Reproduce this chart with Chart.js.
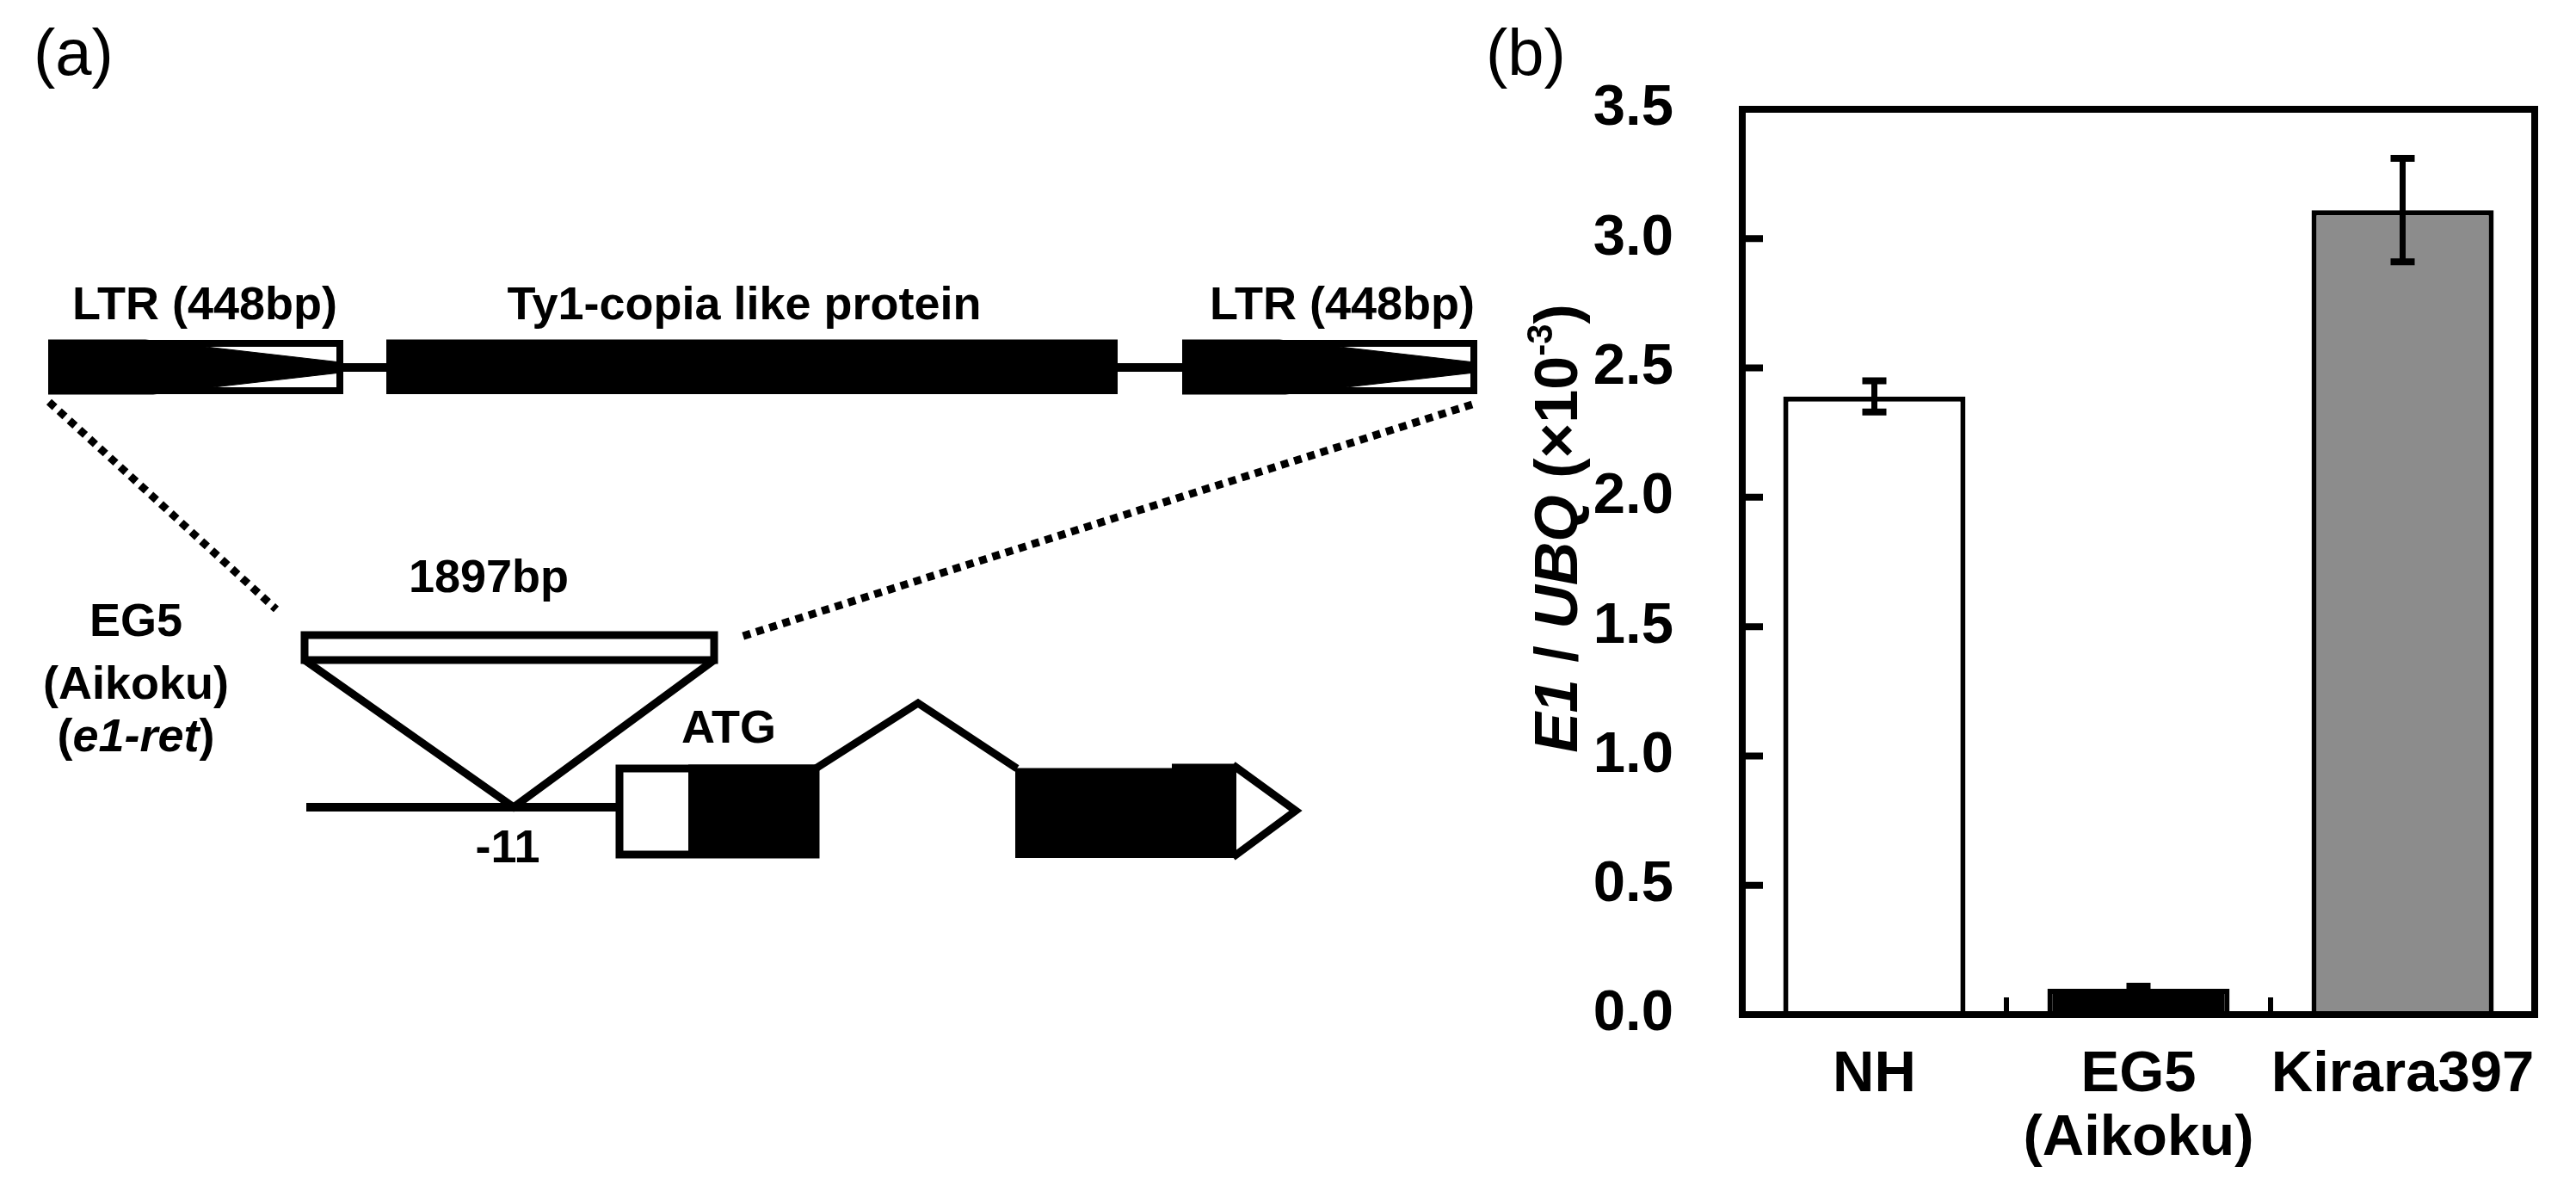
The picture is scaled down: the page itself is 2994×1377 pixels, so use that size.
<!DOCTYPE html>
<html>
<head>
<meta charset="utf-8">
<script src="https://cdn.jsdelivr.net/npm/chart.js@4.4.1/dist/chart.umd.min.js"></script>
<style>
  html, body { margin: 0; padding: 0; background: #fff; }
  #wrap { position: relative; width: 2994px; height: 1377px; overflow: hidden; }
  canvas { position: absolute; top: 0; }
  #diagram { left: 0; }
  #bars { left: 1700px; }
</style>
</head>
<body>
<div id="wrap">
  <canvas id="diagram" width="1760" height="1377"></canvas>
  <canvas id="bars" width="1294" height="1377"></canvas>
</div>
<script>
// (b) expression data
const cultivars = [["NH"], ["EG5", "(Aikoku)"], ["Kirara397"]];
const expression = [2.39, 0.10, 3.11];
const errors = [0.06, 0.01, 0.20];
const yTicks = [0, 0.5, 1.0, 1.5, 2.0, 2.5, 3.0, 3.5];
const barColors = ["#ffffff", "#000000", "#8c8c8c"];

const FAMILY = "'Liberation Sans', Arial, Helvetica, sans-serif";
Chart.defaults.color = "#000";
Chart.defaults.font.family = FAMILY;

function fontOf(p, size) {
  const s = Math.round(size * (p.sup ? 0.6 : 1));
  return (p.italic ? "italic " : "") + (p.regular ? "normal " : "bold ") + s + "px " + FAMILY;
}

// draws a run of mixed-style text on one baseline
function richText(ctx, parts, x, y, size, align) {
  let total = 0;
  parts.forEach(p => {
    ctx.font = fontOf(p, size);
    p.w = ctx.measureText(p.t).width;
    total += p.w;
  });
  let cx = align === "center" ? x - total / 2 : align === "right" ? x - total : x;
  ctx.textAlign = "left";
  ctx.textBaseline = "alphabetic";
  parts.forEach(p => {
    ctx.font = fontOf(p, size);
    ctx.fillText(p.t, cx, y - (p.sup ? size * 0.42 : 0));
    cx += p.w;
  });
}

// ---------- (a) gene structure diagram, drawn on hidden linear scales ----------
function path(points, width, dash) {
  return {
    data: points.map(([x, y]) => ({ x, y })),
    borderColor: "#000",
    borderWidth: width,
    borderDash: dash || [],
    borderJoinStyle: "miter",
    fill: false
  };
}
function outline(x1, y1, x2, y2, width) {
  return path([[x1, y1], [x2, y1], [x2, y2], [x1, y2], [x1, y1], [x2, y1]], width);
}
function block(x1, y1, x2, y2) {
  const d = path([[x1, y1], [x2, y1]], 1);
  d.fill = { value: y2 };
  d.backgroundColor = "#000";
  return d;
}
function between(upper, lower) {
  const a = path(upper, 1);
  a.fill = "+1";
  a.backgroundColor = "#000";
  return [a, path(lower, 1)];
}

const diagramSets = [
  ...between([[56, 395], [169, 395], [396, 421]], [[56, 458], [178, 458], [396, 433]]),
  ...between([[1374, 395], [1487, 395], [1714, 421]], [[1374, 458], [1494, 458], [1714, 433]]),
  block(449, 395, 1299, 458),
  outline(60, 399, 395, 454, 8),
  outline(1378, 399, 1713, 454, 8),
  path([[399, 427], [449, 427]], 10),
  path([[1299, 427], [1374, 427]], 10),
  path([[57, 467], [321, 708]], 9, [9, 7]),
  path([[1711, 470], [861, 740]], 9, [9, 7]),
  outline(354, 738, 830, 767, 9),
  path([[354, 767], [597, 938], [830, 767]], 9),
  path([[356, 938], [718, 938]], 10),
  block(800, 889, 952, 997),
  outline(720, 893, 948, 993, 9),
  path([[948, 893], [1067, 817], [1182, 893]], 9),
  block(1180, 893, 1437, 997),
  block(1362, 888, 1437, 997),
  path([[1433, 889], [1506, 942], [1433, 996]], 9)
];

const diagramLabels = [
  { parts: [{ t: "(a)", regular: true }], x: 39, y: 87, size: 76, align: "left" },
  { parts: [{ t: "LTR (448bp)" }], x: 238, y: 371, size: 54, align: "center" },
  { parts: [{ t: "Ty1-copia like protein" }], x: 865, y: 371, size: 54, align: "center" },
  { parts: [{ t: "LTR (448bp)" }], x: 1560, y: 371, size: 54, align: "center" },
  { parts: [{ t: "1897bp" }], x: 568, y: 688, size: 54, align: "center" },
  { parts: [{ t: "EG5" }], x: 158, y: 739, size: 54, align: "center" },
  { parts: [{ t: "(Aikoku)" }], x: 158, y: 812, size: 54, align: "center" },
  { parts: [{ t: "(" }, { t: "e1-ret", italic: true }, { t: ")" }], x: 158, y: 873, size: 54, align: "center" },
  { parts: [{ t: "ATG" }], x: 847, y: 863, size: 54, align: "center" },
  { parts: [{ t: "-11" }], x: 590, y: 1002, size: 54, align: "center" }
];

const diagramText = {
  id: "diagramText",
  afterDraw(chart) {
    const { ctx, scales: { x, y } } = chart;
    ctx.save();
    ctx.fillStyle = "#000";
    diagramLabels.forEach(l => {
      richText(ctx, l.parts, x.getPixelForValue(l.x), y.getPixelForValue(l.y), l.size, l.align);
    });
    ctx.restore();
  }
};

new Chart(document.getElementById("diagram"), {
  type: "line",
  data: { datasets: diagramSets },
  options: {
    responsive: false,
    animation: false,
    devicePixelRatio: 1,
    layout: { padding: 0 },
    elements: { point: { radius: 0, hoverRadius: 0 }, line: { tension: 0 } },
    plugins: { legend: { display: false }, tooltip: { enabled: false } },
    scales: {
      x: { type: "linear", min: 0, max: 1760, display: false },
      y: { type: "linear", min: 0, max: 1377, reverse: true, display: false }
    }
  },
  plugins: [diagramText]
});

// ---------- (b) bar chart ----------
const tickFont = { family: FAMILY, size: 67, weight: "bold" };
const yTitle = [
  { t: "E1", italic: true }, { t: " / " }, { t: "UBQ", italic: true },
  { t: " (\u00d710" }, { t: "-3", sup: true }, { t: ")" }
];

const panelB = {
  id: "panelB",
  afterDatasetsDraw(chart) {
    const { ctx, chartArea: a, scales: { x, y } } = chart;
    ctx.save();
    ctx.strokeStyle = "#000";
    ctx.lineCap = "butt";

    // error bars
    chart.getDatasetMeta(0).data.forEach((bar, i) => {
      const hi = y.getPixelForValue(expression[i] + errors[i]);
      const lo = y.getPixelForValue(expression[i] - errors[i]);
      ctx.lineWidth = 7;
      ctx.beginPath();
      ctx.moveTo(bar.x, hi);
      ctx.lineTo(bar.x, lo);
      ctx.stroke();
      ctx.lineWidth = 8;
      ctx.beginPath();
      ctx.moveTo(bar.x - 14, hi);
      ctx.lineTo(bar.x + 14, hi);
      ctx.moveTo(bar.x - 14, lo);
      ctx.lineTo(bar.x + 14, lo);
      ctx.stroke();
    });

    // inward tick marks
    ctx.lineWidth = 8;
    ctx.beginPath();
    yTicks.forEach(v => {
      const py = y.getPixelForValue(v);
      ctx.moveTo(a.left, py);
      ctx.lineTo(a.left + 24, py);
    });
    ctx.stroke();
    ctx.lineWidth = 6;
    ctx.beginPath();
    for (let i = 0; i < cultivars.length - 1; i++) {
      const px = (x.getPixelForValue(i) + x.getPixelForValue(i + 1)) / 2;
      ctx.moveTo(px, a.bottom);
      ctx.lineTo(px, a.bottom - 20);
    }
    ctx.stroke();

    // frame
    ctx.lineWidth = 8;
    ctx.strokeRect(a.left, a.top, a.right - a.left, a.bottom - a.top);
    ctx.restore();
  },
  afterDraw(chart) {
    const { ctx } = chart;
    ctx.save();
    ctx.fillStyle = "#000";
    richText(ctx, [{ t: "(b)", regular: true }], 27, 87, 76, "left");
    ctx.translate(133, 614);
    ctx.rotate(-Math.PI / 2);
    richText(ctx, yTitle, 0, 0, 70, "center");
    ctx.restore();
  }
};

new Chart(document.getElementById("bars"), {
  type: "bar",
  data: {
    labels: cultivars,
    datasets: [{
      data: expression,
      backgroundColor: barColors,
      borderColor: "#000",
      borderWidth: 6,
      barPercentage: 0.69,
      categoryPercentage: 1
    }]
  },
  options: {
    responsive: false,
    animation: false,
    devicePixelRatio: 1,
    layout: { padding: { top: 127, right: 48, left: 0, bottom: 0 } },
    plugins: { legend: { display: false }, tooltip: { enabled: false } },
    scales: {
      x: {
        grid: { display: false, drawTicks: false },
        border: { display: false },
        ticks: { font: { ...tickFont, lineHeight: 1.1 }, padding: 34, maxRotation: 0, autoSkip: false, color: "#000" },
        afterFit: s => { s.height = 198; }
      },
      y: {
        min: 0,
        max: 3.5,
        afterBuildTicks: s => { s.ticks = yTicks.map(v => ({ value: v })); },
        grid: { display: false, drawTicks: false },
        border: { display: false },
        ticks: { font: tickFont, padding: 80, color: "#000", callback: v => Number(v).toFixed(1) },
        afterFit: s => { s.width = 325; }
      }
    }
  },
  plugins: [panelB]
});
</script>
</body>
</html>
